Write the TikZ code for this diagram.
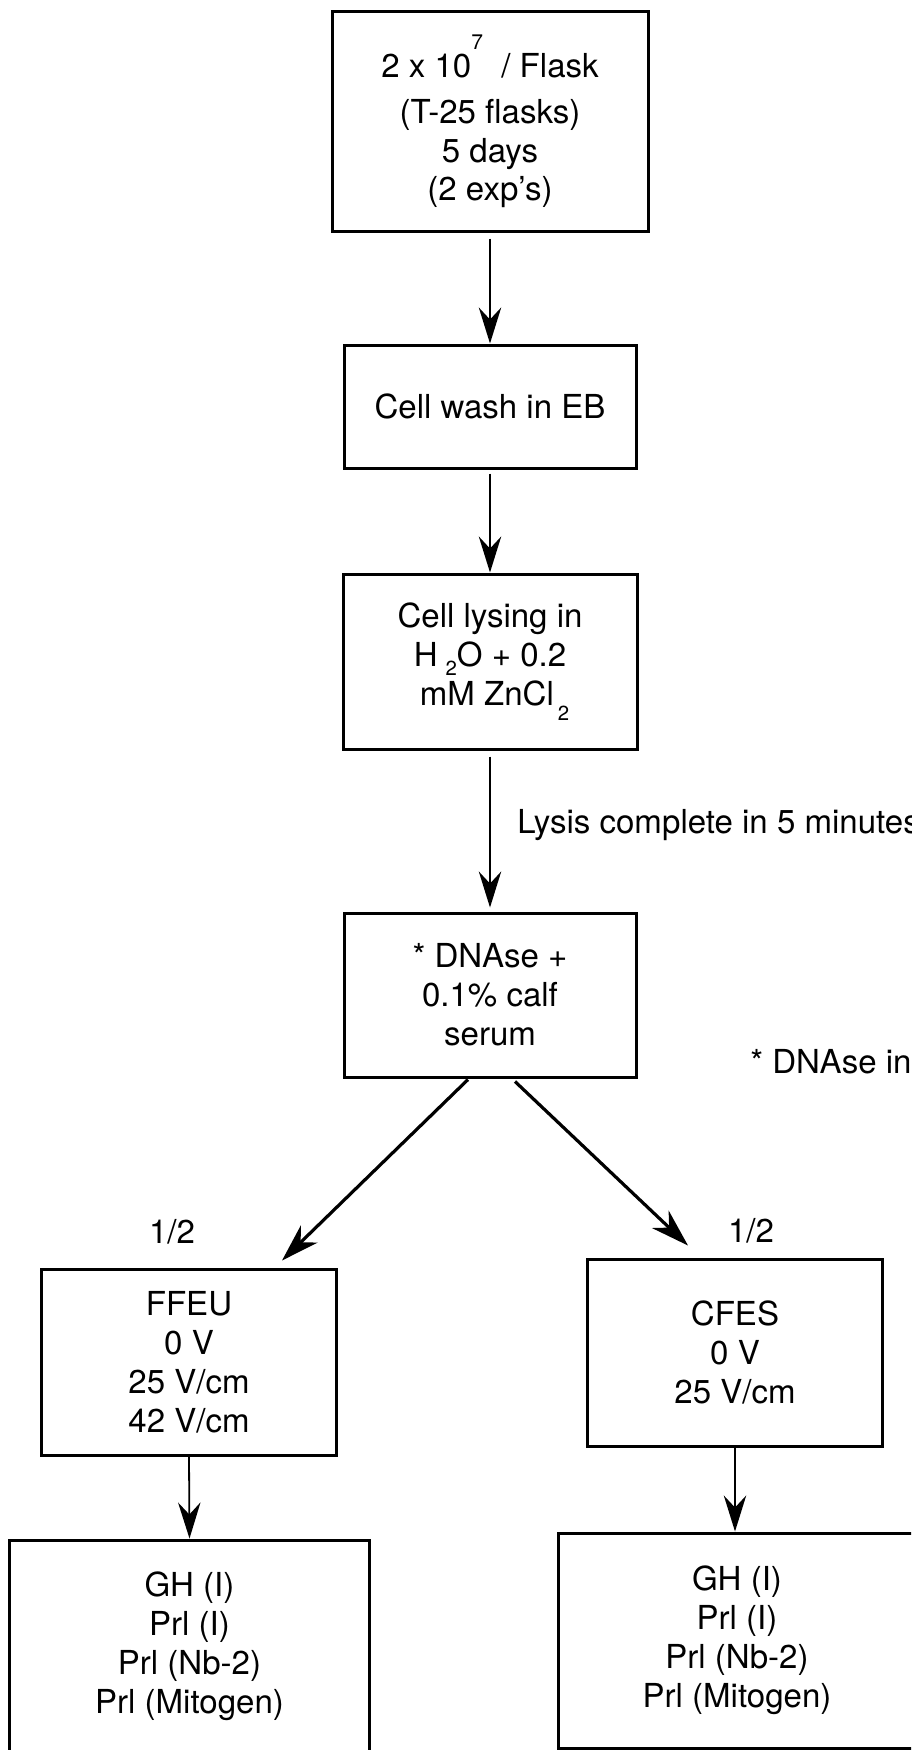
\documentclass[tikz,border=0pt]{standalone}
\usepackage{fontspec}
\setmainfont{TeX Gyre Heros}
\usetikzlibrary{arrows.meta,calc}
\tikzset{
  doboz/.style={draw,line width=0.75mm,inner sep=0pt,align=center},
  nyil/.style={line width=0.45mm,-{Stealth[length=9mm,width=5.6mm,inset=3mm]}},
  fnyil/.style={line width=0.8mm,-{Stealth[length=9.5mm,width=6mm,inset=3mm]}},
  felirat/.style={inner sep=0pt},
}

\begin{document}
\begin{tikzpicture}[x=0.25mm,y=-0.25mm,font=\fontsize{23.5}{27.7}\selectfont]
  \path[fill=white,use as bounding box] (0,0) rectangle (911,1750);
  \clip (0,0) rectangle (911,1750);
  % main column
  \node[doboz,minimum width=79mm,minimum height=54.75mm] (b1) at (490,121.5)
    {2 x 10\raisebox{20pt}{\fontsize{15}{15}\selectfont 7}\ \ / Flask\\[0.2em]
     (T-25 flasks)\\5 days\\(2 exp's)};
  \node[doboz,minimum width=73mm,minimum height=30.75mm] (b2) at (490,406.5)
    {Cell wash in EB};
  \node[doboz,minimum width=73.5mm,minimum height=43.75mm] (b3) at (490,661.5)
    {Cell lysing in\\
     H\hspace{2mm}\raisebox{-6.5pt}{\fontsize{14.5}{14.5}\selectfont 2}O + 0.2\\
     \ mM ZnCl\hspace{1mm}\raisebox{-11pt}{\fontsize{14.5}{14.5}\selectfont 2}};
  \node[doboz,minimum width=73mm,minimum height=41mm] (b4) at (490,995)
    {* DNAse +\\0.1\% calf\\serum};
  % two branches
  \node[doboz,minimum width=73.5mm,minimum height=46.5mm] (b5) at (189,1362)
    {FFEU\\0 V\\25 V/cm\\42 V/cm};
  \node[doboz,minimum width=73.75mm,minimum height=46.75mm] (b6) at (735,1352.5)
    {CFES\\0 V\\25 V/cm};
  \node[doboz,minimum width=89.75mm,minimum height=53mm] (b7) at (189.5,1646)
    {GH (I)\\Prl (I)\\Prl (Nb-2)\\Prl (Mitogen)};
  \node[doboz,minimum width=89.5mm,minimum height=53.75mm] (b8) at (737,1640.5)
    {GH (I)\\Prl (I)\\Prl (Nb-2)\\Prl (Mitogen)};
  % labels
  \node[felirat,anchor=base west] (lizis) at (517,833) {Lysis complete in 5 minutes};
  \node[felirat,anchor=base west] (megj) at (750,1073) {* DNAse in};
  \node[felirat,anchor=base] (fel1) at (172,1243) {1/2};
  \node[felirat,anchor=base] (fel2) at (751,1242) {1/2};
  % arrows
  \draw[nyil] ($(b1.south)+(0,6)$) -- (b2.north);
  \draw[nyil] ($(b2.south)+(0,4)$) -- (b3.north);
  \draw[nyil] ($(b3.south)+(0,6)$) -- ($(b4.north)+(0,-4)$);
  \draw[fnyil] ($(b4.south)+(-22,1)$) -- ($(b5.north)+(93,-7)$);
  \draw[fnyil] ($(b4.south)+(25,3)$) -- ($(b6.north)+(-47,-12)$);
  \draw[nyil] (b5.south) -- (b7.north);
  \draw[nyil] (b6.south) -- ($(b8.north)+(-2,0)$);
\end{tikzpicture}
\end{document}
